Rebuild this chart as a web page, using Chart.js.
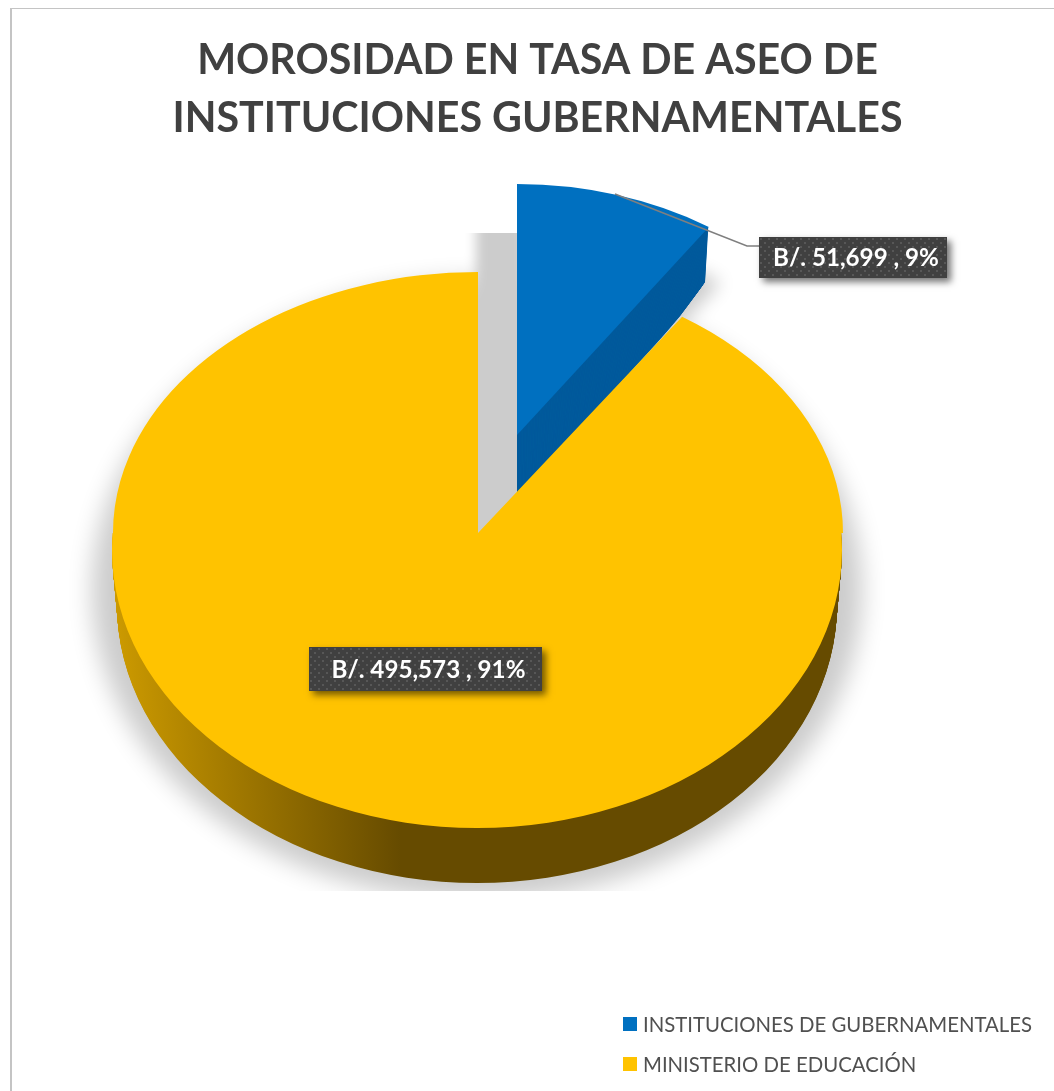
<!DOCTYPE html>
<html lang="es">
<head>
<meta charset="UTF-8">
<title>Morosidad en tasa de aseo</title>
<script src="https://cdn.jsdelivr.net/npm/chart.js@4"></script>
<style>
  html, body { margin: 0; padding: 0; background: #fff; overflow: hidden; }
  #wrap { position: relative; width: 1054px; height: 1091px; font-family: Lato, sans-serif; }
  #frame { position: absolute; left: 10px; top: 8px; right: 0; bottom: 0; border-left: 2px solid #c4c4c4; border-top: 1px solid #c4c4c4; }
  canvas { position: absolute; left: 0; top: 0; }
  .leg { position: absolute; left: 623px; display: flex; align-items: center; font-size: 20.35px; color: #505050; white-space: nowrap; line-height: 24px; }
  .leg i { display: block; width: 14px; height: 14px; margin-right: 6px; }
</style>
</head>
<body>
<div id="wrap">
  <div id="frame"></div>
  <canvas id="pie" width="1054" height="1091"></canvas>
</div>
<script>
// datos
const categorias = ['INSTITUCIONES DE GUBERNAMENTALES', 'MINISTERIO DE EDUCACIÓN'];
const valores = [51699, 495573];
const colores = ['#0070C0', '#FFC300'];
const titulo = ['MOROSIDAD EN TASA DE ASEO DE', 'INSTITUCIONES GUBERNAMENTALES'];

// geometria del pastel "3D"
const PROF = 55;
const PROF_AZUL = 62;
const azul = { cx: 517, cy: 435, rx: 343, ry: 251 };
const amarilloArriba = { cx: 478, cy: 533, rx: 365, ry: 261 };
const amarilloAbajo = { cx: 477, cy: 550, rx: 365, ry: 278 };
const cajas = [
  { x: 759, y: 237, w: 188, h: 41 },
  { x: 309, y: 647, w: 233, h: 44 }
];

function ubicar(ctx, arc, g, dy) {
  ctx.translate(g.cx, g.cy + dy);
  ctx.scale(g.rx / arc.outerRadius, g.ry / arc.outerRadius);
  ctx.translate(-arc.x, -arc.y);
}

// copia del arco con otro relleno; completo = circulo entero
function copia(arc, fill, completo) {
  const c = Object.create(arc);
  c.options = Object.assign({}, arc.options, { backgroundColor: fill });
  if (completo) {
    c.startAngle = -Math.PI / 2;
    c.endAngle = Math.PI * 1.5;
    c.circumference = Math.PI * 2;
  }
  return c;
}

function dibujar(ctx, arc, g, dy) {
  ctx.save();
  ubicar(ctx, arc, g, dy);
  arc.draw(ctx);
  ctx.restore();
}

// la pared se estrecha un poco hacia abajo
function pared(ctx, arc, g, prof, encoge) {
  for (let d = prof; d > 0; d--) {
    dibujar(ctx, arc, { cx: g.cx, cy: g.cy, rx: g.rx * (1 - d * encoge), ry: g.ry }, d);
  }
}

function sombra(chart, arcos) {
  const ctx = chart.ctx;
  const m = document.createElement('canvas');
  m.width = chart.width; m.height = chart.height;
  const mc = m.getContext('2d');
  mc.filter = 'blur(12px)';
  dibujar(mc, copia(arcos[1], '#000', true), { cx: 477, cy: 590, rx: 385, ry: 310 }, 0);
  mc.filter = 'blur(9px)';
  dibujar(mc, copia(arcos[0], '#000'), { cx: 528, cy: 490, rx: 345, ry: 251 }, 0);
  mc.filter = 'blur(6px)';
  mc.fillStyle = '#000';
  mc.fillRect(476, 190, 50, 350);
  ctx.save();
  ctx.beginPath();
  ctx.rect(0, 233, chart.width, 658);
  ctx.clip();
  ctx.globalAlpha = 0.2;
  ctx.drawImage(m, 0, 0);
  ctx.restore();
}

function etiqueta(ctx, caja, texto) {
  const tile = document.createElement('canvas');
  tile.width = 8; tile.height = 8;
  const t = tile.getContext('2d');
  t.fillStyle = '#404040';
  t.fillRect(0, 0, 8, 8);
  t.fillStyle = '#575757';
  t.fillRect(1, 1, 2, 2);
  t.fillRect(5, 5, 2, 2);
  ctx.save();
  ctx.shadowColor = 'rgba(0,0,0,0.55)';
  ctx.shadowBlur = 7;
  ctx.shadowOffsetX = 4;
  ctx.shadowOffsetY = 4;
  ctx.fillStyle = '#404040';
  ctx.fillRect(caja.x, caja.y, caja.w, caja.h);
  ctx.restore();
  ctx.save();
  ctx.translate(caja.x, caja.y);
  ctx.fillStyle = ctx.createPattern(tile, 'repeat');
  ctx.fillRect(0, 0, caja.w, caja.h);
  ctx.restore();
  ctx.fillStyle = '#fff';
  ctx.font = 'bold 24.2px Lato, sans-serif';
  ctx.textAlign = 'center';
  ctx.textBaseline = 'middle';
  ctx.fillText(texto, caja.x + caja.w / 2 + 3, caja.y + caja.h / 2 + 1);
}

const pastel3d = {
  id: 'pastel3d',
  beforeDatasetsDraw(chart) {
    const ctx = chart.ctx;
    const arcos = chart.getDatasetMeta(0).data;
    sombra(chart, arcos);

    // porcion azul separada; se recorta la esquina inferior de la pared
    ctx.save();
    ctx.beginPath();
    ctx.moveTo(510, 170);
    ctx.lineTo(712, 170);
    ctx.lineTo(705, 282);
    ctx.lineTo(680, 316);
    ctx.lineTo(510, 520);
    ctx.closePath();
    ctx.clip();
    pared(ctx, copia(arcos[0], '#005A9C'), azul, PROF_AZUL, 0.00025);
    ctx.restore();
    dibujar(ctx, arcos[0], azul, 0);

    // pared amarilla con degradado
    const sx = amarilloAbajo.rx / arcos[1].outerRadius;
    const xLocal = v => arcos[1].x + (v - amarilloAbajo.cx) / sx;
    const grad = ctx.createLinearGradient(xLocal(112), 0, xLocal(400), 0);
    grad.addColorStop(0, '#CC9A00');
    grad.addColorStop(1, '#664B00');
    ctx.save();
    ctx.beginPath();
    ctx.rect(0, 533, chart.width, chart.height - 533);
    ctx.clip();
    pared(ctx, copia(arcos[1], grad, true), amarilloAbajo, PROF, 0.00025);
    dibujar(ctx, copia(arcos[1], colores[1], true), amarilloAbajo, 0);
    ctx.restore();
    ctx.save();
    ctx.beginPath();
    ctx.rect(0, 0, chart.width, 533);
    ctx.clip();
    dibujar(ctx, arcos[1], amarilloArriba, 0);
    ctx.restore();

    // linea guia
    ctx.strokeStyle = '#7F7F7F';
    ctx.lineWidth = 1.5;
    ctx.beginPath();
    ctx.moveTo(615, 194);
    ctx.lineTo(747, 246);
    ctx.lineTo(759, 246);
    ctx.stroke();

    const total = valores.reduce((a, b) => a + b, 0);
    valores.forEach((v, i) => {
      const txt = 'B/. ' + v.toLocaleString('en-US') + ' , ' + Math.round(v / total * 100) + '%';
      etiqueta(ctx, cajas[i], txt);
    });
    return false;
  }
};

new Chart(document.getElementById('pie'), {
  type: 'pie',
  data: {
    labels: categorias,
    datasets: [{ data: valores, backgroundColor: colores, borderWidth: 0 }]
  },
  options: {
    responsive: false,
    animation: false,
    devicePixelRatio: 1,
    layout: { padding: { left: 21, top: 22 } },
    plugins: {
      legend: { display: false },
      tooltip: { enabled: false },
      title: {
        display: true,
        text: titulo,
        color: '#404040',
        font: { family: 'Lato, sans-serif', size: 41.2, weight: 'bold', lineHeight: 1.41 }
      }
    }
  },
  plugins: [pastel3d]
});

// leyenda
const wrap = document.getElementById('wrap');
categorias.forEach((c, i) => {
  const d = document.createElement('div');
  d.className = 'leg';
  d.style.top = (1012 + i * 40) + 'px';
  d.innerHTML = '<i style="background:' + colores[i] + '"></i>' + c;
  wrap.appendChild(d);
});
</script>
</body>
</html>
